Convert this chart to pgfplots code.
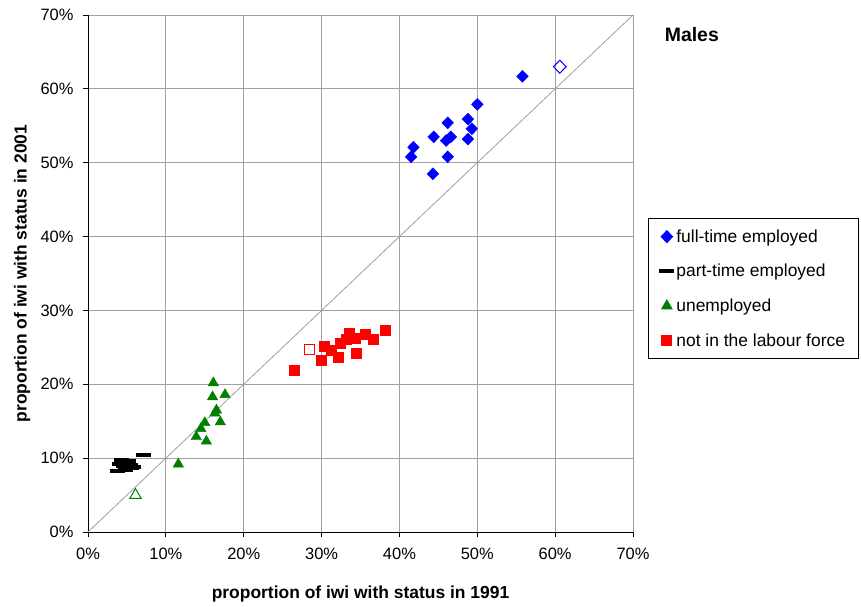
\documentclass[border=0pt]{standalone}
\usepackage{pgfplots}
\pgfplotsset{compat=1.18}
\usepackage{fontspec}
\setmainfont{Liberation Sans}

\definecolor{ftblue}{RGB}{0,0,255}
\definecolor{unemgreen}{RGB}{0,128,0}
\definecolor{nlfred}{RGB}{255,0,0}
\definecolor{gridgray}{RGB}{160,160,160}

\begin{document}
\begin{tikzpicture}
\useasboundingbox (-88bp,-75bp) rectangle (773bp,532bp);
\begin{axis}[
  at={(0,0)}, anchor=south west,
  scale only axis,
  width=545bp, height=517bp,
  xmin=0, xmax=70, ymin=0, ymax=70,
  axis lines*=left,
  axis line style={black, line width=0.8bp},
  xtick={0,10,...,70}, ytick={0,10,...,70},
  xticklabels={0\%,10\%,20\%,30\%,40\%,50\%,60\%,70\%},
  yticklabels={0\%,10\%,20\%,30\%,40\%,50\%,60\%,70\%},
  tick align=outside, major tick length=5bp,
  tick style={black, line width=0.8bp},
  ticklabel style={font=\fontsize{16.5}{19}\selectfont},
  xticklabel style={yshift=-8bp},
  yticklabel style={xshift=-6bp},
  grid=major,
  major grid style={gridgray, line width=0.8bp},
  xlabel={\bfseries proportion of iwi with status in 1991},
  ylabel={\bfseries proportion of iwi with status in 2001},
  label style={font=\fontsize{17.5}{20}\selectfont},
  xlabel style={at={(0.5,-0.12)}, anchor=center},
  ylabel style={at={(-0.121,0.5)}, anchor=center},
  legend style={
    at={(1.0275,0.607)}, anchor=north west,
    draw=black, line width=0.8bp,
    font=\fontsize{17.5}{20}\selectfont,
    row sep=16.5bp, inner xsep=11bp, inner ysep=9bp,
    cells={anchor=west},
  },
  legend image post style={line width=0.8bp},
  clip=false,
]

% reference line: equal proportion in both years
\addplot[gridgray, line width=0.8bp, no marks, forget plot] coordinates {(0,0) (70,70)};

\addplot[only marks, mark=diamond*, color=ftblue, mark size=6bp,
  mark options={xscale=1.3}] coordinates {
  (41.5,50.8) (41.8,52.1) (44.4,53.5) (44.3,48.5) (46.2,55.4)
  (46.0,53.0) (46.6,53.5) (46.2,50.8) (48.8,55.9) (49.3,54.6)
  (48.8,53.2) (50.0,57.9) (55.8,61.7)
};
\addlegendentry{full-time employed}

\addplot[only marks, mark=-, color=black, mark size=7.5bp,
  mark options={line width=4bp}] coordinates {
  (4.3,9.7) (5.2,9.6) (4.0,9.2) (5.5,9.1) (5.9,8.8)
  (3.8,8.3) (4.8,8.4) (5.6,8.7) (4.6,8.9) (7.1,10.4)
};
\addlegendentry{part-time employed}

\addplot[only marks, mark=triangle*, color=unemgreen, mark size=6bp] coordinates {
  (16.1,20.2) (16.0,18.3) (17.6,18.6) (16.5,16.5) (16.3,16.1)
  (17.0,14.9) (15.0,14.8) (14.5,14.0) (13.9,12.9) (15.2,12.3)
  (11.6,9.2)
};
\addlegendentry{unemployed}

\addplot[only marks, mark=square*, color=nlfred, mark size=5bp] coordinates {
  (26.5,21.9) (29.9,23.2) (30.4,25.1) (31.3,24.6) (32.2,23.7)
  (32.4,25.5) (33.1,26.1) (33.5,26.9) (34.3,26.2) (34.4,24.2)
  (35.6,26.8) (36.6,26.1) (38.2,27.3)
};
\addlegendentry{not in the labour force}

% all-iwi totals as open marks
\addplot[only marks, mark=diamond, color=ftblue, mark size=6.5bp,
  mark options={xscale=1.3, line width=1bp}, forget plot] coordinates {(60.6,63.0)};
\addplot[only marks, mark=triangle, color=unemgreen, mark size=6.5bp,
  mark options={line width=1bp}, forget plot] coordinates {(6.1,5.0)};
\addplot[only marks, mark=square, color=nlfred, mark size=5bp,
  mark options={line width=1bp}, forget plot] coordinates {(28.4,24.7)};

\node[anchor=base west, font=\fontsize{19.5}{22}\selectfont\bfseries]
  at (rel axis cs:1.052,0.948) {Males};
\end{axis}
\end{tikzpicture}
\end{document}
